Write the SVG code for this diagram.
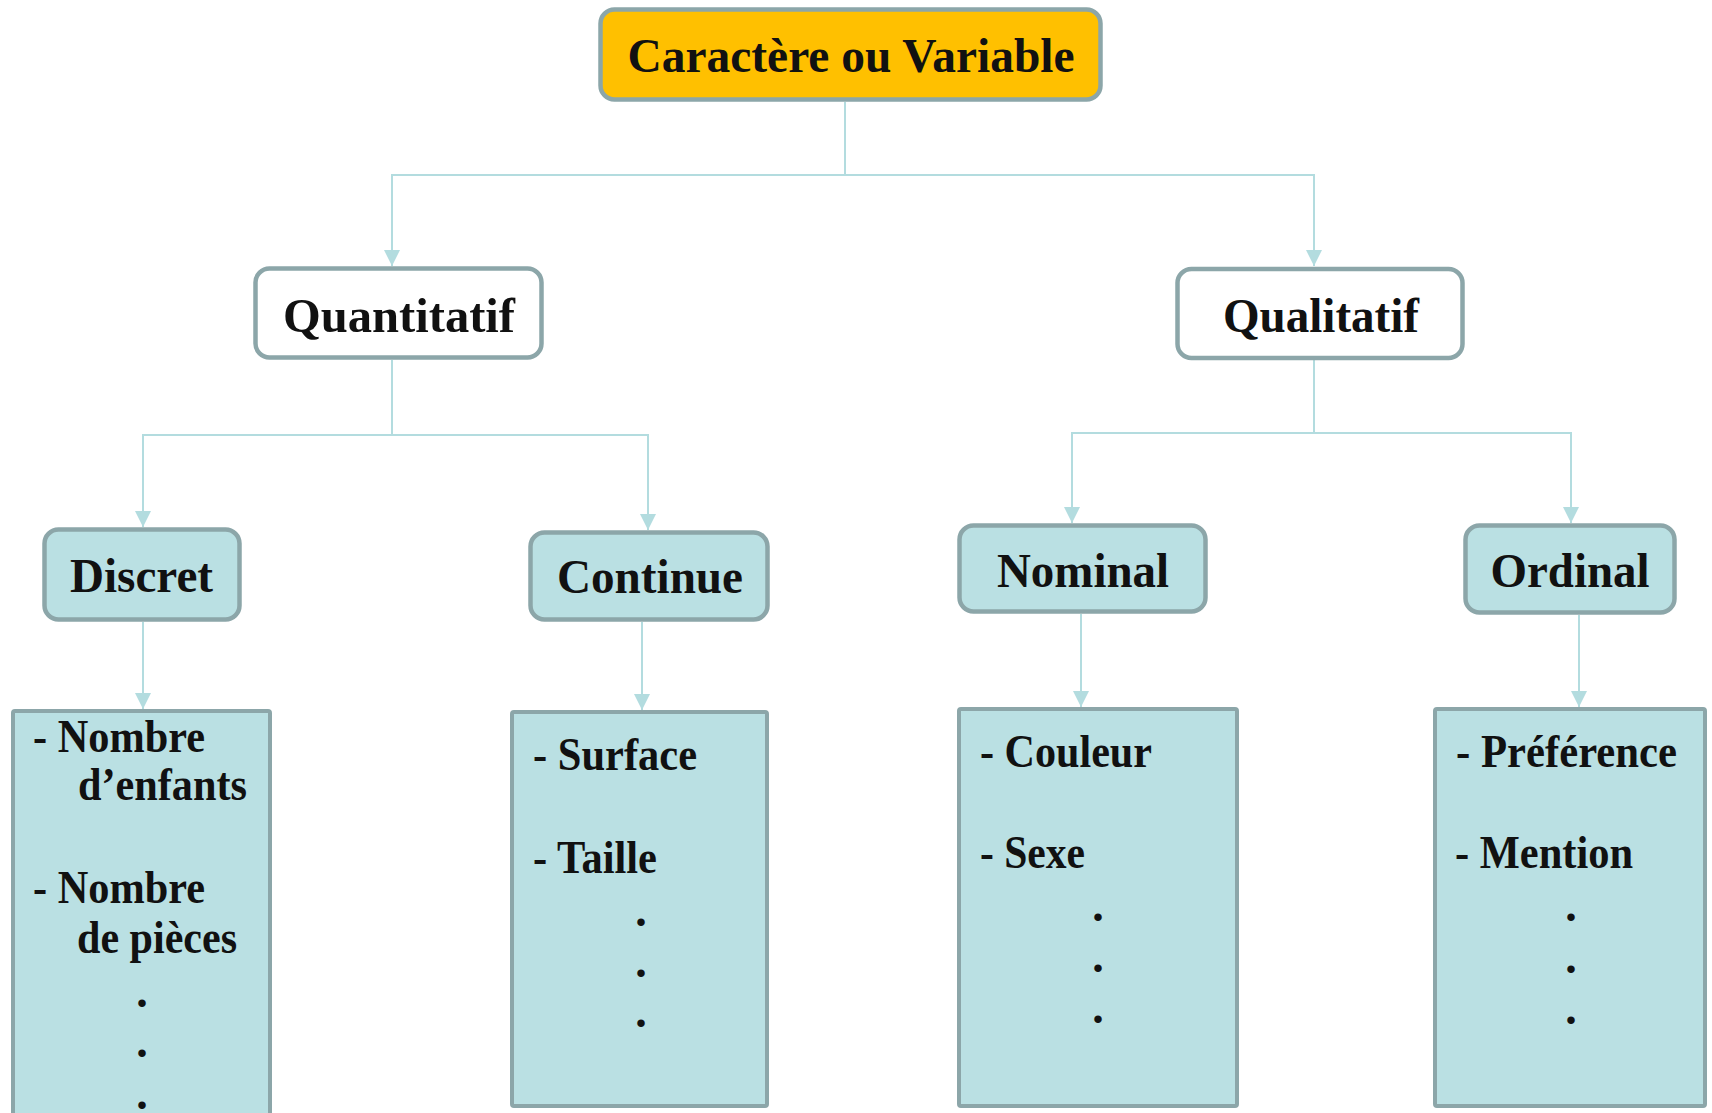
<svg xmlns="http://www.w3.org/2000/svg" width="1712" height="1113" viewBox="0 0 1712 1113">
<style>
.box{stroke:#8CA6A9;stroke-width:4.5}
.top{fill:#FFC000}
.white{fill:#FFFFFF}
.blue{fill:#BAE0E3}
.list{fill:#BAE0E3;stroke:#8CA6A9;stroke-width:4}
.conn{fill:none;stroke:#B3DCDF;stroke-width:2}
.h{font-family:"Liberation Serif","Times New Roman",serif;font-weight:bold;font-size:48px;fill:#111;text-anchor:middle}
.t{font-family:"Liberation Serif","Times New Roman",serif;font-weight:bold;font-size:46px;fill:#111}
.d{font-family:"Liberation Serif","Times New Roman",serif;font-weight:bold;font-size:46px;fill:#111;text-anchor:middle}
</style>
<defs>
<marker id="arr" markerUnits="userSpaceOnUse" markerWidth="16" markerHeight="16" refX="16" refY="8" orient="auto">
<path d="M0,0 L16,8 L0,16 z" fill="#B3DCDF"/>
</marker>
</defs>
<rect width="1712" height="1113" fill="#FFFFFF"/>
<g id="connectors">
<path class="conn" d="M845,102 V175"/>
<path class="conn" d="M845,175 H392 V266" marker-end="url(#arr)"/>
<path class="conn" d="M845,175 H1314 V266" marker-end="url(#arr)"/>
<path class="conn" d="M392,360 V435"/>
<path class="conn" d="M392,435 H143 V527" marker-end="url(#arr)"/>
<path class="conn" d="M392,435 H648 V530" marker-end="url(#arr)"/>
<path class="conn" d="M1314,360 V433"/>
<path class="conn" d="M1314,433 H1072 V523" marker-end="url(#arr)"/>
<path class="conn" d="M1314,433 H1571 V523" marker-end="url(#arr)"/>
<path class="conn" d="M143,622 V709" marker-end="url(#arr)"/>
<path class="conn" d="M642,622 V710" marker-end="url(#arr)"/>
<path class="conn" d="M1081,614 V707" marker-end="url(#arr)"/>
<path class="conn" d="M1579,615 V707" marker-end="url(#arr)"/>
</g>
<g id="node-variable">
<rect class="box top" x="600.5" y="9.5" width="500" height="90" rx="14"/>
<text class="h" x="851" y="72" textLength="447" lengthAdjust="spacingAndGlyphs">Caractère ou Variable</text>
</g>
<g id="node-quantitatif">
<rect class="box white" x="255.5" y="268.5" width="286" height="89" rx="14"/>
<text class="h" x="399" y="332" textLength="232" lengthAdjust="spacingAndGlyphs">Quantitatif</text>
</g>
<g id="node-qualitatif">
<rect class="box white" x="1177.5" y="269" width="285" height="89" rx="14"/>
<text class="h" x="1321" y="332" textLength="196" lengthAdjust="spacingAndGlyphs">Qualitatif</text>
</g>
<g id="node-discret">
<rect class="box blue" x="44.5" y="529.5" width="195" height="90" rx="14"/>
<text class="h" x="141.5" y="592" textLength="143" lengthAdjust="spacingAndGlyphs">Discret</text>
</g>
<g id="node-continue">
<rect class="box blue" x="530.5" y="532.5" width="237" height="87" rx="14"/>
<text class="h" x="650" y="593" textLength="186" lengthAdjust="spacingAndGlyphs">Continue</text>
</g>
<g id="node-nominal">
<rect class="box blue" x="959.5" y="525.5" width="246" height="86" rx="14"/>
<text class="h" x="1083" y="587" textLength="172" lengthAdjust="spacingAndGlyphs">Nominal</text>
</g>
<g id="node-ordinal">
<rect class="box blue" x="1465.5" y="525.5" width="209" height="87" rx="14"/>
<text class="h" x="1570" y="587" textLength="159" lengthAdjust="spacingAndGlyphs">Ordinal</text>
</g>
<g id="list-discret">
<rect class="list" x="13" y="711" width="257" height="420" rx="2"/>
<text class="t" x="33" y="752" textLength="172" lengthAdjust="spacingAndGlyphs">- Nombre</text>
<text class="t" x="78" y="800" textLength="169" lengthAdjust="spacingAndGlyphs">d’enfants</text>
<text class="t" x="33" y="903" textLength="172" lengthAdjust="spacingAndGlyphs">- Nombre</text>
<text class="t" x="77" y="953" textLength="160" lengthAdjust="spacingAndGlyphs">de pièces</text>
<text class="d" x="142" y="1007">.</text>
<text class="d" x="142" y="1057">.</text>
<text class="d" x="142" y="1109">.</text>
</g>
<g id="list-continue">
<rect class="list" x="512" y="712" width="255" height="394" rx="2"/>
<text class="t" x="533" y="770" textLength="164" lengthAdjust="spacingAndGlyphs">- Surface</text>
<text class="t" x="533" y="873" textLength="124" lengthAdjust="spacingAndGlyphs">- Taille</text>
<text class="d" x="641" y="926">.</text>
<text class="d" x="641" y="977">.</text>
<text class="d" x="641" y="1027">.</text>
</g>
<g id="list-nominal">
<rect class="list" x="959" y="709" width="278" height="397" rx="2"/>
<text class="t" x="980" y="767" textLength="172" lengthAdjust="spacingAndGlyphs">- Couleur</text>
<text class="t" x="980" y="868" textLength="105" lengthAdjust="spacingAndGlyphs">- Sexe</text>
<text class="d" x="1098" y="921">.</text>
<text class="d" x="1098" y="972">.</text>
<text class="d" x="1098" y="1023">.</text>
</g>
<g id="list-ordinal">
<rect class="list" x="1435" y="709" width="270" height="397" rx="2"/>
<text class="t" x="1456" y="767" textLength="221" lengthAdjust="spacingAndGlyphs">- Préférence</text>
<text class="t" x="1455" y="868" textLength="178" lengthAdjust="spacingAndGlyphs">- Mention</text>
<text class="d" x="1571" y="921">.</text>
<text class="d" x="1571" y="973">.</text>
<text class="d" x="1571" y="1024">.</text>
</g>
</svg>
